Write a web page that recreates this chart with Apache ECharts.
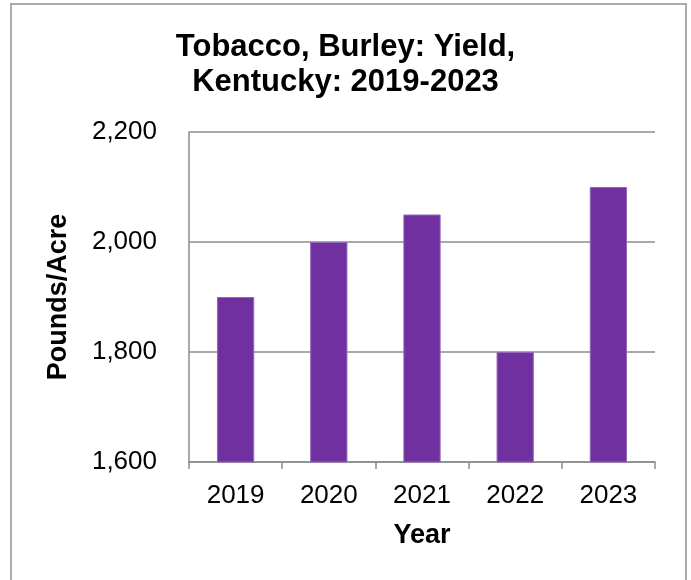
<!DOCTYPE html>
<html>
<head>
<meta charset="utf-8">
<script src="https://cdn.jsdelivr.net/npm/echarts@6/dist/echarts.min.js"></script>
<style>
html,body{margin:0;padding:0;background:#fff;}
#chart{width:691px;height:580px;}
</style>
</head>
<body>
<div id="chart"></div>
<script>
var titleText = 'Tobacco, Burley: Yield,\nKentucky: 2019-2023';
var categories = ['2019', '2020', '2021', '2022', '2023'];
var yieldValues = [1900, 2000, 2050, 1800, 2100];
var yTicks = { min: 1600, max: 2200, interval: 200 };
var xAxisName = 'Year';
var yAxisName = 'Pounds/Acre';

var FONT = '"Liberation Sans", Arial, sans-serif';
var chart = echarts.init(document.getElementById('chart'), null, { renderer: 'canvas' });
chart.setOption({
  backgroundColor: '#ffffff',
  animation: false,
  title: {
    text: titleText,
    left: 'center',
    top: 25,
    textStyle: { fontFamily: FONT, fontSize: 31, fontWeight: 'bold', color: '#000', lineHeight: 35 }
  },
  graphic: [{
    type: 'rect',
    shape: { x: 11, y: 4, width: 675, height: 620 },
    style: { fill: 'none', stroke: '#ababab', lineWidth: 2 },
    silent: true,
    z: -1
  }],
  grid: { left: 189, right: 36, top: 132, bottom: 118 },
  xAxis: {
    type: 'category',
    data: categories,
    name: xAxisName,
    nameLocation: 'middle',
    nameGap: 60,
    nameTextStyle: { fontFamily: FONT, fontSize: 27, fontWeight: 'bold', color: '#000' },
    axisLine: { show: true, lineStyle: { color: '#8c8c8c', width: 1.5 } },
    axisTick: { show: true, length: 7, alignWithLabel: false, lineStyle: { color: '#8c8c8c', width: 1.5 } },
    axisLabel: { fontFamily: FONT, fontSize: 26, color: '#000', margin: 21 },
    splitLine: { show: false }
  },
  yAxis: {
    type: 'value',
    min: yTicks.min,
    max: yTicks.max,
    interval: yTicks.interval,
    name: yAxisName,
    nameLocation: 'middle',
    nameRotate: 90,
    nameGap: 117,
    nameTextStyle: { fontFamily: FONT, fontSize: 27, fontWeight: 'bold', color: '#000' },
    axisLine: { show: true, lineStyle: { color: '#8c8c8c', width: 1.5 } },
    axisTick: { show: false },
    axisLabel: {
      fontFamily: FONT, fontSize: 26, color: '#000', margin: 32,
      formatter: function (v) { return v.toLocaleString('en-US'); }
    },
    splitLine: { show: true, lineStyle: { color: '#8c8c8c', width: 1.5 } }
  },
  series: [{
    type: 'bar',
    data: yieldValues,
    barWidth: '40%',
    itemStyle: { color: '#7030A0', borderColor: '#9468bb', borderWidth: 1 }
  }]
});
</script>
</body>
</html>
